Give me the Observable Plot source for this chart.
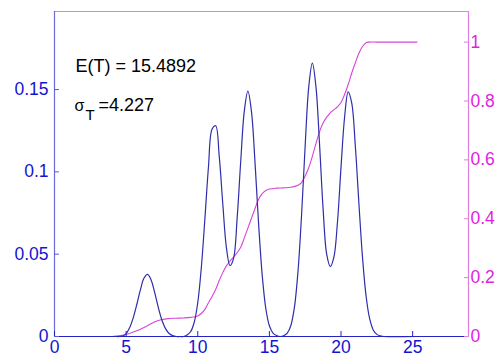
<!DOCTYPE html>
<html>
<head>
<meta charset="utf-8">
<script src="https://cdn.jsdelivr.net/npm/d3@7"></script>
<script src="https://cdn.jsdelivr.net/npm/@observablehq/plot@0.6"></script>
<style>
  html, body { margin: 0; padding: 0; background: #fff; }
  #chart svg { display: block; }
</style>
</head>
<body>
<div id="chart"></div>
<script>
// ---- data ----
const xTicks = [0, 5, 10, 15, 20, 25];
const leftTicks = [0, 0.05, 0.1, 0.15];
const rightTicks = [0, 0.2, 0.4, 0.6, 0.8, 1];
const xDomain = [0, 28.9];
const leftDomain = [0, 0.1974];
const rightDomain = [0, 1.104];

// probability density (blue, left axis)
const pdfX = [4, 4.25, 4.5, 4.75, 5, 5.25, 5.5, 5.75, 6, 6.25, 6.5, 6.75, 7, 7.25, 7.5, 7.75, 8, 8.25, 8.5, 8.75,
  9, 9.25, 9.5, 9.75, 10, 10.25, 10.5, 10.75, 11, 11.25, 11.5, 11.75, 12, 12.25, 12.5, 12.75, 13, 13.25, 13.5, 13.75,
  14, 14.25, 14.5, 14.75, 15, 15.25, 15.5, 15.75, 16, 16.25, 16.5, 16.75, 17, 17.25, 17.5, 17.75, 18, 18.25, 18.5, 18.75,
  19, 19.25, 19.5, 19.75, 20, 20.25, 20.5, 20.75, 21, 21.25, 21.5, 21.75, 22, 22.25, 22.5, 22.75, 23, 25.25];
const pdfY = [0, 0, 0, 0.0003, 0.0018, 0.0055, 0.0115, 0.0196, 0.0285, 0.0355, 0.0377, 0.0342, 0.0265, 0.0175, 0.0099, 0.0048, 0.0018, 0.0005, 0, 0,
  0, 0.0009, 0.0029, 0.0085, 0.0205, 0.0419, 0.0717, 0.1033, 0.126, 0.128, 0.1094, 0.0803, 0.054, 0.043, 0.0475, 0.0719, 0.1064, 0.1369, 0.149, 0.1366,
  0.1053, 0.0682, 0.0372, 0.017, 0.0065, 0.0021, 0.0006, 0, 0.0005, 0.0021, 0.0067, 0.0178, 0.0398, 0.0743, 0.1162, 0.1518, 0.166, 0.1518, 0.117, 0.0775,
  0.05, 0.0425, 0.048, 0.0691, 0.1027, 0.1332, 0.1486, 0.1417, 0.1157, 0.0808, 0.0482, 0.0246, 0.0108, 0.004, 0.0013, 0.0004, 0, 0];

// cumulative distribution (magenta, right axis)
const cdfX = [4, 4.5, 5, 5.5, 6, 6.5, 7, 7.5, 8, 8.5, 9, 9.5, 10, 10.25, 10.5, 10.75, 11, 11.25, 11.5, 11.75,
  12, 12.25, 12.5, 12.75, 13, 13.25, 13.5, 13.75, 14, 14.25, 14.5, 14.75, 15, 15.5, 16, 16.5, 17, 17.25, 17.5, 17.75,
  18, 18.25, 18.5, 18.75, 19, 19.25, 19.5, 19.75, 20, 20.25, 20.5, 20.75, 21, 21.25, 21.5, 21.75, 22, 22.5, 25.3];
const cdfY = [0, 0.002, 0.007, 0.015, 0.025, 0.037, 0.05, 0.058, 0.061, 0.062, 0.063, 0.065, 0.07, 0.078, 0.092, 0.115, 0.136, 0.16, 0.19, 0.217,
  0.24, 0.256, 0.27, 0.285, 0.303, 0.335, 0.368, 0.402, 0.435, 0.466, 0.485, 0.496, 0.501, 0.504, 0.505, 0.507, 0.514, 0.523, 0.545, 0.574,
  0.612, 0.655, 0.695, 0.725, 0.745, 0.76, 0.77, 0.78, 0.795, 0.822, 0.856, 0.895, 0.93, 0.962, 0.985, 0.998, 1.0, 1.0, 1.0];

const meanText = "E(T) = 15.4892";
const sigmaSym = "σ";
const sigmaSub = "T";
const sigmaText = "=4.227";

// ---- styling ----
const blueText = "#1414d2";
const blueLine = "#2e2eaa";
const magText = "#e01ee0";
const magLine = "#d844d8";
const magAxis = "#e07ee6";

// map right-axis values onto the left scale
const k = leftDomain[1] / rightDomain[1];
const pdf = pdfX.map((x, i) => ({x, y: pdfY[i]}));
const cdf = cdfX.map((x, i) => ({x, y: cdfY[i] * k}));
const fmt = d3.format("~g");

const chart = Plot.plot({
  width: 497,
  height: 361,
  marginLeft: 54,
  marginRight: 29,
  marginTop: 11,
  marginBottom: 25,
  style: {fontFamily: "'Liberation Sans', Arial, sans-serif", fontSize: "17px", background: "#fff"},
  x: {domain: xDomain, label: null},
  y: {domain: leftDomain, label: null},
  marks: [
    Plot.line(cdf, {x: "x", y: "y", stroke: magLine, strokeWidth: 1.1, curve: "catmull-rom"}),
    Plot.line(pdf, {x: "x", y: "y", stroke: blueLine, strokeWidth: 1.2, curve: "catmull-rom"}),
    // box
    Plot.ruleY([leftDomain[1]], {stroke: magAxis, strokeWidth: 1.2}),
    Plot.ruleX([xDomain[1]], {stroke: magAxis, strokeWidth: 1.2}),
    Plot.ruleX([xDomain[0]], {stroke: "#6c6cd6", strokeWidth: 1.2}),
    Plot.ruleY([0], {stroke: "#2424c0", strokeWidth: 1.2}),
    // axes (inward ticks)
    Plot.axisX(xTicks, {anchor: "bottom", label: null, tickSize: -5, tickPadding: 9, stroke: "#2424c0", fill: blueText, fontSize: 17.5, tickFormat: fmt}),
    Plot.axisY(leftTicks, {anchor: "left", label: null, tickSize: -5, tickPadding: 11, stroke: "#5a5ad0", fill: blueText, fontSize: 17.5, tickFormat: fmt}),
    Plot.axisY(rightTicks.map(v => v * k), {anchor: "right", label: null, tickSize: -5, tickPadding: 7, stroke: magAxis, fill: magText, fontSize: 17.5, tickFormat: d => fmt(+(d / k).toFixed(6))}),
    // annotation
    Plot.text([meanText], {frameAnchor: "top-left", dx: 21, dy: 60, text: d => d, textAnchor: "start", lineAnchor: "bottom", fill: "#000", fontSize: 18}),
    Plot.text([sigmaSym], {frameAnchor: "top-left", dx: 20, dy: 99, text: d => d, textAnchor: "start", lineAnchor: "bottom", fill: "#000", fontSize: 16}),
    Plot.text([sigmaSub], {frameAnchor: "top-left", dx: 31, dy: 108, text: d => d, textAnchor: "start", lineAnchor: "bottom", fill: "#000", fontSize: 15}),
    Plot.text([sigmaText], {frameAnchor: "top-left", dx: 44, dy: 99, text: d => d, textAnchor: "start", lineAnchor: "bottom", fill: "#000", fontSize: 18})
  ]
});
document.getElementById("chart").appendChild(chart);
</script>
</body>
</html>
